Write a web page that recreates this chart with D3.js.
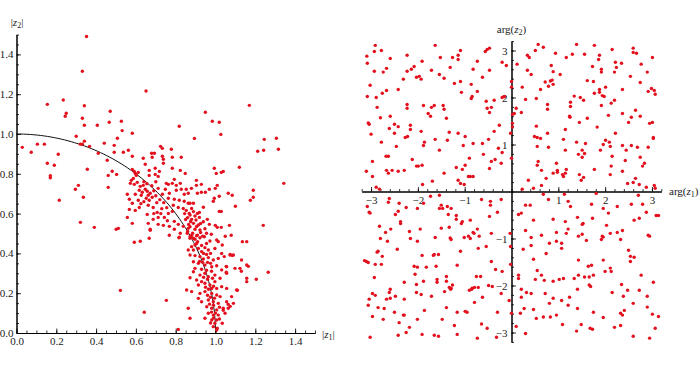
<!DOCTYPE html>
<html>
<head>
<meta charset="utf-8">
<script src="https://cdn.jsdelivr.net/npm/d3@7/dist/d3.min.js"></script>
<style>
  body { margin: 0; background: #fff; }
  svg text { font-family: "Liberation Serif", "DejaVu Serif", serif; fill: #222; }
</style>
</head>
<body>
<script>
// ---- data ---------------------------------------------------------------------
// left panel: |z1| , |z2|
var modPoints = [
  [0.352,1.49],[0.331,1.315],[0.651,1.216],[0.235,1.171],[0.155,1.149],[0.341,1.142],[0.471,1.114],[0.25,1.104],
  [0.245,1.089],[0.331,1.079],[0.466,1.059],[0.527,1.064],[0.341,1.044],[0.406,1.044],[0.300,0.989],[0.341,0.964],
  [0.321,0.949],[0.331,0.949],[0.441,0.954],[0.491,0.943],[0.367,0.938],[0.029,0.933],[0.105,0.949],[0.140,0.949],
  [0.074,0.908],[0.210,0.898],[0.411,0.903],[0.491,0.908],[0.456,0.868],[0.155,0.853],[0.190,0.843],[0.356,0.823],
  [0.481,0.813],[0.170,0.79],[0.170,0.78],[0.531,1.017],[0.582,1.004],[0.507,0.979],
  [0.724,0.938],[0.733,0.928],[0.778,0.923],[0.537,0.908],[0.562,0.918],[0.582,0.888],[0.637,0.878],[0.679,0.903],
  [0.693,0.903],[0.682,0.883],[0.733,0.888],[0.738,0.873],[0.783,0.883],[0.828,0.883],[0.647,0.848],[0.697,0.828],
  [0.738,0.853],[0.783,0.828],[0.503,0.797],[0.823,0.817],[0.848,0.802],[0.667,0.817],[0.667,0.792],[0.697,0.797],
  [0.712,0.787],[0.718,0.812],
  [0.582,0.822],[0.592,0.812],[0.597,0.802],[0.602,0.792],[0.612,0.807],[0.587,0.777],[0.577,0.767],[0.572,0.752],
  [0.592,0.747],[0.607,0.757],[0.622,0.737],[0.637,0.742],[0.617,0.717],[0.632,0.707],[0.647,0.722],[0.657,0.712],
  [0.662,0.692],[0.672,0.702],[0.652,0.677],[0.667,0.667],[0.682,0.682],[0.627,0.692],[0.597,0.697],[0.612,0.667],
  [0.567,0.672],[0.557,0.697],[0.582,0.652],[0.567,0.621],[0.597,0.616],[0.617,0.631],[0.662,0.642],[0.687,0.631],
  [0.707,0.606],[0.657,0.596],
  [0.64,0.76],[0.655,0.75],[0.68,0.74],[0.70,0.76],[0.69,0.715],[0.70,0.69],[0.72,0.67],[0.705,0.655],
  [0.74,0.655],[0.73,0.625],[0.755,0.63],[0.64,0.66],[0.625,0.65],[0.69,0.60],[0.725,0.60],
  [0.753,0.752],[0.763,0.747],[0.783,0.752],[0.793,0.772],[0.803,0.742],[0.823,0.752],[0.828,0.722],[0.853,0.722],
  [0.863,0.702],[0.843,0.697],[0.803,0.717],[0.748,0.722],[0.768,0.702],[0.712,0.727],[0.733,0.697],[0.763,0.677],
  [0.793,0.672],[0.818,0.667],[0.843,0.662],[0.863,0.652],[0.788,0.642],[0.813,0.631],[0.838,0.626],[0.853,0.616],
  [0.868,0.601],[0.783,0.611],[0.763,0.601],[0.743,0.581],[0.712,0.581],[0.687,0.571],[0.758,0.564],[0.793,0.561],
  [0.813,0.546],[0.838,0.536],[0.863,0.526],[0.858,0.501],[0.823,0.501],[0.793,0.521],[0.768,0.536],[0.738,0.541],
  [0.712,0.546],[0.672,0.521],[0.662,0.551],[0.557,0.581],[0.582,0.551],[0.512,0.526],[0.768,0.491],[0.818,0.481],
  [0.880,0.626],[0.889,0.610],[0.872,0.593],[0.897,0.588],[0.909,0.601],[0.880,0.571],[0.902,0.568],[0.919,0.581],
  [0.889,0.551],[0.914,0.543],[0.939,0.559],[0.872,0.534],[0.897,0.521],[0.922,0.518],[0.947,0.524],[0.885,0.501],
  [0.909,0.492],[0.935,0.487],[0.955,0.501],[0.872,0.476],[0.897,0.471],
  [0.86,0.58],[0.875,0.56],[0.865,0.545],[0.905,0.535],[0.925,0.55],[0.86,0.51],[0.88,0.49],[0.925,0.505],
  [0.845,0.6],[0.85,0.57],
  [0.904,0.767],[0.904,0.742],[0.929,0.747],[0.879,0.727],[1.009,0.742],[0.999,0.727],[0.969,0.722],[1.064,0.702],
  [1.084,0.692],[1.190,0.717],[1.190,0.682],[1.175,0.667],[0.909,0.702],[0.929,0.707],[0.949,0.707],[1.019,0.687],
  [0.994,0.677],[0.989,0.662],[1.100,0.637],[1.019,0.611],[1.029,0.611],[0.939,0.632],[0.919,0.606],[0.889,0.652],
  [0.872,0.652],[1.240,0.541],[1.070,0.541],[0.959,0.571],[0.969,0.546],[0.999,0.541],[1.009,0.531],[1.029,0.531],
  [0.979,0.496],[1.049,0.486],[1.079,0.491],
  [0.994,0.828],[1.004,0.802],[1.029,0.807],[1.039,0.812],[1.120,0.833],[1.212,0.913],[1.242,0.918],[1.245,0.973],
  [1.306,0.979],[1.316,0.923],[1.027,0.998],[0.894,0.978],[1.17,1.144],[0.949,1.109],[0.818,1.039],[0.984,1.064],
  [1.019,1.059],[1.343,0.752],
  [0.816,0.479],[0.872,0.484],[0.889,0.476],[0.905,0.489],[0.922,0.479],[0.944,0.484],[0.972,0.462],[1.006,0.467],
  [1.014,0.459],[1.034,0.442],[1.135,0.459],[1.157,0.459],[0.910,0.459],[0.897,0.442],[0.880,0.434],[0.863,0.417],
  [0.889,0.417],[0.914,0.425],[0.930,0.409],[0.947,0.429],[0.964,0.417],[0.997,0.425],[1.031,0.400],[1.073,0.392],
  [1.090,0.392],[1.131,0.367],[1.044,0.384],[0.872,0.392],[0.897,0.389],[0.922,0.384],[0.939,0.372],[0.964,0.379],
  [0.989,0.367],[1.014,0.375],[0.889,0.358],[0.914,0.350],[0.947,0.342],[0.981,0.333],[1.006,0.338],[1.056,0.333],
  [1.098,0.325],[1.123,0.325],[1.157,0.342],[1.056,0.300],[1.031,0.317],[0.897,0.325],[0.889,0.308],[0.922,0.291],
  [0.947,0.300],[0.964,0.283],[0.997,0.291],[1.023,0.275],[1.157,0.275],[1.157,0.258],[0.872,0.278],[0.905,0.266],
  [0.930,0.258],[0.914,0.241],[0.947,0.250],[0.972,0.241],[0.997,0.258],[0.981,0.224],[1.006,0.224],[1.031,0.233],
  [1.056,0.224],[1.106,0.216],[0.855,0.216],[0.880,0.208],[0.922,0.199],[0.947,0.208],[0.981,0.199],[1.006,0.191],
  [1.023,0.183],[1.081,0.183],[0.914,0.174],[0.930,0.157],[0.964,0.166],[0.989,0.157],[1.014,0.149],[1.056,0.157],
  [1.090,0.149],[0.956,0.132],[0.981,0.124],[1.006,0.116],[1.039,0.124],[1.064,0.124],[0.863,0.124],[0.964,0.099],
  [0.989,0.090],[1.014,0.090],[1.048,0.099],[0.947,0.074],[0.981,0.065],[1.006,0.065],[0.872,0.074],[0.997,0.049],
  [0.989,0.032],[1.006,0.015],[0.813,0.018],
  [0.905,0.45],[0.93,0.44],[0.955,0.45],[0.94,0.40],[0.955,0.395],[0.975,0.40],[0.92,0.36],[0.935,0.355],
  [0.96,0.355],[0.975,0.35],[0.93,0.32],[0.955,0.315],[0.98,0.31],[0.94,0.28],[0.96,0.27],[0.985,0.275],
  [0.95,0.23],[0.965,0.22],[0.99,0.235],[0.96,0.19],[0.975,0.18],[0.995,0.175],[0.97,0.145],[0.99,0.14],
  [1.02,0.13],[0.98,0.105],[1.0,0.10],[0.99,0.075],[1.02,0.07],[0.975,0.05],
  [0.215,0.667],[0.311,0.742],[0.296,0.722],[0.336,0.682],[0.321,0.556],[0.391,0.531],[0.461,0.792],[0.461,0.732],
  [0.501,0.521],[0.522,0.214],[0.642,0.104],[0.753,0.164],[0.592,0.456],[0.622,0.461],[0.667,0.476],[0.672,0.516],
  [1.265,0.305],[1.205,0.270],[1.13,0.31],[1.165,0.335],[1.11,0.215],[1.074,0.395],[1.084,0.39],[1.054,0.335],
  [1.054,0.305],[1.064,0.144],[1.074,0.134],[1.039,0.114],[1.034,0.049],[1.009,0.024]
];

// right panel: arg(z1) , arg(z2)
var argPoints = [
  [-2.91,3.11],[-2.93,2.98],[-2.78,3.00],[-3.09,2.88],[-3.08,2.73],[-2.23,2.90],[-1.63,3.11],[-1.09,3.00],
  [-1.14,2.90],[-1.14,2.81],[-1.26,2.85],[-1.52,2.85],[-1.91,2.77],[-2.59,2.83],[-2.67,2.62],[-2.74,2.54],
  [-2.93,2.56],[-3.02,2.26],[-3.08,2.02],[-2.89,2.00],[-2.76,2.09],[-2.67,2.15],[-2.42,2.17],[-2.31,2.39],
  [-2.23,2.56],[-2.14,2.60],[-2.08,2.66],[-2.03,2.43],[-1.97,2.45],[-1.93,2.39],[-1.71,2.58],[-1.54,2.49],
  [-1.44,2.41],[-1.31,2.64],[-1.22,2.30],[-1.09,2.34],[-1.07,2.11],[-0.86,2.28],[-0.84,2.02],[-0.86,1.98],
  [-0.73,2.77],[-0.82,2.60],[-0.62,2.43],[-0.73,2.13],[-0.52,3.02],[-0.47,3.05],[-0.56,2.98],[-0.47,2.58],
  [-0.54,1.92],[-0.37,1.94],[-0.43,1.79],[-0.47,1.68],[-0.52,1.77],[-0.20,2.75],[-0.11,2.68],[-0.15,2.02],
  [-0.20,2.00],[0.00,2.34],[0.00,2.22],[0.02,1.45],[0.06,1.66],[0.02,1.37],[0.00,0.71],
  [-2.87,1.79],[-3.06,1.46],[-3.04,1.43],[-3.00,1.22],[-2.80,1.57],[-2.59,1.60],[-2.61,1.34],[-2.50,1.43],
  [-2.50,1.24],[-2.42,1.38],[-2.46,0.96],[-2.78,1.05],[-2.68,0.75],[-2.63,0.75],[-3.10,0.43],[-2.97,0.32],
  [-2.97,0.64],[-2.67,0.45],[-2.63,0.39],[-2.55,0.45],[-2.42,0.43],[-2.29,0.45],[-2.16,1.41],[-2.16,1.32],
  [-2.27,1.15],[-2.22,1.17],[-2.12,0.68],[-2.03,0.54],[-1.99,0.54],[-1.91,0.56],[-1.93,1.28],[-1.86,1.05],
  [-1.88,0.98],[-2.23,1.85],[-2.23,1.77],[-1.88,1.83],[-1.78,1.66],[-1.73,1.60],[-1.71,1.79],[-1.65,1.83],
  [-1.46,1.83],[-1.44,1.75],[-1.39,1.56],[-1.63,1.11],[-1.54,0.88],[-1.37,1.09],[-1.33,1.26],[-1.14,1.24],
  [-1.03,0.98],[-0.99,1.17],[-1.18,0.51],[-1.05,0.47],[-0.99,0.56],[-0.90,0.71],[-0.82,1.02],[-0.62,1.02],
  [-0.60,0.79],[-0.49,1.11],[-0.37,1.28],[-0.26,1.41],[-0.28,0.92],[-0.43,0.64],[-0.47,0.49],[-0.35,0.68],
  [-0.22,0.60],[-0.20,0.83],[-0.02,1.24],[0.02,1.64],[-0.92,0.32],[-0.88,0.32],[-0.82,0.32],[-1.01,0.15],
  [-1.14,0.24],[-1.09,0.17],[-1.44,0.39],[-1.69,0.22],[-1.90,0.15],[-2.89,0.09],[-2.82,0.05],
  [0.57,3.13],[0.68,3.07],[0.51,3.00],[0.34,2.90],[0.38,2.85],[0.12,2.71],[0.34,2.58],[0.42,2.49],
  [0.23,2.22],[0.30,1.96],[0.10,1.77],[0.21,1.68],[0.94,2.94],[1.39,3.13],[1.30,2.92],[1.17,2.85],
  [1.56,2.92],[1.77,3.11],[1.88,2.90],[1.86,2.81],[1.73,2.66],[1.92,2.60],[1.92,2.54],[2.15,3.02],
  [2.22,2.75],[2.24,2.64],[2.20,2.54],[2.35,2.73],[2.60,3.05],[2.60,2.96],[2.67,2.94],[3.01,2.85],
  [2.77,2.71],[2.90,2.54],[2.54,2.45],[2.75,2.32],[2.99,2.19],[3.05,2.15],[2.92,2.13],[3.07,2.07],
  [2.37,2.17],[0.85,2.68],[0.89,2.55],[1.04,2.49],[0.72,2.33],[0.83,2.35],[0.87,2.37],[0.89,2.28],
  [0.79,2.24],[0.62,2.17],[0.53,1.98],[0.77,1.85],[0.77,1.75],[1.26,1.90],[1.26,1.81],[1.34,2.03],
  [1.47,2.00],[1.54,1.94],[1.62,2.36],[1.75,2.34],[1.77,2.09],[1.88,2.17],[1.88,2.11],[1.94,2.04],
  [1.98,2.02],[2.01,2.22],[1.92,1.83],[2.13,1.88],[2.20,1.94],[2.07,1.62],[2.37,1.66],[2.56,1.58],
  [2.65,1.73],[2.75,1.60],[2.50,1.47],[2.95,1.45],[3.01,1.47],[3.03,1.15],[3.03,1.13],[2.92,0.94],
  [1.24,1.60],[1.25,1.58],[1.45,1.47],[1.62,1.56],[1.83,1.37],[1.15,1.32],[0.53,1.39],[0.49,1.17],
  [0.55,1.15],[0.62,1.13],[0.77,1.24],[0.55,0.96],[0.79,0.94],[1.11,1.11],[1.15,0.88],[1.39,1.05],
  [1.58,1.02],[1.43,0.79],[1.51,0.88],[1.56,0.81],[1.51,0.73],[1.90,0.88],[1.96,1.00],[2.01,1.09],
  [2.09,1.05],[2.11,0.96],[2.22,1.24],[2.37,0.98],[2.45,0.88],[2.56,0.98],[2.69,0.94],[2.15,0.75],
  [2.43,0.66],[2.75,0.73],[2.84,0.60],[2.80,0.54],[2.13,0.54],[2.11,0.36],[2.37,0.43],[0.57,0.64],
  [0.55,0.56],[0.64,0.45],[0.96,0.60],[0.98,0.45],[0.98,0.41],[0.89,0.39],[1.09,0.36],[1.11,0.32],
  [1.17,0.47],[1.15,0.39],[0.74,0.28],[0.36,0.24],[1.45,0.36],[1.54,0.30],[1.49,0.24],[1.77,0.47],
  [2.48,0.17],[2.60,0.19],[2.65,0.28],[2.73,0.15],[3.05,0.13],[3.07,0.07],[2.88,0.09],[0.47,0.07],
  [0.64,0.13],[0.23,0.05],
  [-3.08,-0.32],[-3.04,-0.44],[-3.02,-0.46],[-2.61,-0.15],[-2.63,-0.23],[-2.40,-0.25],[-2.25,-0.34],[-2.48,-0.49],
  [-2.42,-0.42],[-2.37,-0.64],[-2.37,-0.68],[-2.01,-0.36],[-1.88,-0.25],[-1.73,-0.10],[-1.54,-0.08],[-1.50,-0.29],
  [-1.54,-0.36],[-1.47,-0.36],[-1.37,-0.32],[-1.29,-0.36],[-1.35,-0.49],[-1.18,-0.51],[-1.18,-0.59],[-1.05,-0.64],
  [-1.07,-0.68],[-0.88,-0.61],[-0.64,-0.17],[-0.45,-0.21],[-0.45,-0.29],[-0.22,-0.17],[-0.47,-0.53],[-0.30,-0.44],
  [-2.82,-0.74],[-2.69,-0.87],[-2.58,-0.80],[-2.80,-1.00],[-2.65,-1.06],[-2.18,-0.85],[-2.16,-1.00],[-1.95,-0.80],
  [-2.01,-1.06],[-1.50,-0.78],[-1.63,-0.98],[-1.33,-0.76],[-1.31,-0.99],[-1.29,-1.02],[-1.01,-0.98],[-0.92,-0.95],
  [-0.82,-0.87],[-0.80,-0.89],[-0.73,-0.80],[-0.69,-0.95],[-0.88,-1.00],[-0.43,-0.89],[-0.54,-1.17],[-0.71,-1.21],
  [-0.03,-0.89],[-0.02,-1.17],[-2.44,-1.23],[-2.85,-1.27],[-2.87,-1.29],[-2.76,-1.38],[-2.78,-1.55],[-2.91,-1.55],
  [-3.14,-1.47],[-3.10,-1.49],[-3.06,-1.51],[-1.91,-1.36],[-1.67,-1.36],[-1.65,-1.34],[-1.56,-1.34],[-1.09,-1.27],
  [-1.16,-1.57],[-2.08,-1.59],[-2.01,-1.61],[-1.82,-1.61],[-1.61,-1.59],[-2.06,-1.76],[-2.29,-1.93],[-2.93,-1.83],
  [-0.43,-1.49],[-0.34,-1.66],[-0.20,-1.70],[-0.66,-1.81],[-0.75,-1.81],[-0.02,-1.55],[-1.59,-1.87],[-1.59,-1.93],
  [-1.39,-1.81],[-1.39,-1.91],[-1.33,-2.04],[-1.29,-2.06],[-1.26,-1.99],[-1.30,-2.08],[-1.43,-2.13],[-2.03,-1.98],
  [-2.03,-2.15],[-1.88,-1.91],[-1.93,-2.19],[-2.59,-2.08],[-2.61,-2.15],[-2.59,-2.27],[-2.67,-2.29],[-2.48,-2.23],
  [-2.97,-2.17],[-2.91,-2.21],[-3.04,-2.29],[-3.06,-2.42],[-2.85,-2.47],[-2.72,-2.49],[-2.97,-2.66],[-0.90,-2.10],
  [-0.84,-2.06],[-0.79,-2.04],[-0.85,-2.08],[-0.71,-2.04],[-0.49,-2.00],[-0.41,-2.02],[-0.79,-2.36],[-0.62,-2.25],
  [-0.22,-2.17],[-0.05,-2.32],[-1.71,-2.23],[-2.29,-2.29],[-1.39,-2.47],[-1.86,-2.53],[-2.50,-2.57],[-2.31,-2.63],
  [-2.29,-2.63],[-2.74,-2.72],[-2.40,-2.79],[-2.18,-2.89],[-1.48,-2.72],[-1.16,-2.57],[-0.99,-2.55],[-0.95,-2.57],
  [-2.01,-2.72],[-0.30,-2.57],[-1.22,-2.85],[-0.64,-2.82],[-0.52,-2.91],[0.00,-2.59],[-3.02,-3.10],[-2.42,-3.06],
  [-2.25,-3.00],[-1.91,-3.04],[-1.65,-3.06],[-1.56,-3.08],[-1.16,-3.04],[-0.73,-3.12],[-0.32,-3.10],
  [0.15,-0.49],[0.21,-0.46],[0.30,-0.29],[0.40,-0.29],[0.68,-0.06],[0.79,-0.17],[1.13,-0.06],[1.26,-0.32],
  [1.21,-0.21],[1.71,-0.27],[1.81,-0.04],[1.96,-0.36],[2.07,-0.46],[2.26,-0.32],[2.56,-0.27],[2.71,-0.08],
  [2.80,-0.27],[2.88,-0.44],[3.09,-0.51],[3.14,-0.51],[0.47,-0.61],[0.89,-0.59],[1.15,-0.64],[1.41,-0.55],
  [1.53,-0.68],[1.51,-0.70],[1.73,-0.57],[2.03,-0.72],[2.11,-0.89],[2.26,-0.87],[2.37,-0.83],[2.33,-1.02],
  [2.62,-0.61],[2.73,-0.57],[0.30,-0.83],[0.42,-0.98],[0.64,-0.93],[0.96,-0.87],[1.17,-0.89],[1.21,-0.80],
  [1.43,-0.95],[1.51,-0.91],[1.60,-1.04],[1.92,-1.02],[1.94,-0.95],[1.96,-0.97],[2.92,-0.93],[2.95,-0.95],
  [0.25,-1.23],[0.42,-1.15],[0.81,-1.10],[0.96,-1.06],[1.07,-1.10],[1.07,-1.21],[0.74,-1.32],[0.47,-1.44],
  [1.43,-1.46],[1.96,-1.46],[2.50,-1.25],[2.54,-1.38],[2.54,-1.49],[2.62,-1.40],[0.55,-1.68],[1.64,-1.59],
  [1.71,-1.57],[2.00,-1.70],[2.11,-1.63],[2.13,-1.70],[2.77,-1.78],[0.15,-1.78],[0.15,-1.85],[0.51,-1.87],
  [0.64,-1.78],[0.70,-1.89],[0.89,-1.91],[1.02,-1.87],[1.11,-1.85],[1.34,-1.85],[1.43,-1.78],[1.56,-1.82],
  [1.66,-1.82],[1.75,-1.78],[1.66,-1.99],[1.69,-2.02],[3.03,-1.93],[0.21,-2.08],[0.32,-2.15],[0.42,-2.17],
  [0.72,-2.17],[0.89,-2.27],[1.07,-2.32],[1.24,-2.25],[1.41,-2.08],[1.21,-2.42],[0.81,-2.38],[0.21,-2.25],
  [2.15,-2.15],[2.35,-1.98],[2.39,-2.23],[2.48,-2.10],[2.73,-2.10],[2.60,-2.38],[2.41,-2.53],[2.33,-2.59],
  [2.37,-2.63],[2.90,-2.23],[2.90,-2.46],[3.01,-2.61],[3.14,-2.66],[0.19,-2.59],[0.27,-2.49],[0.47,-2.51],
  [0.53,-2.70],[0.68,-2.67],[0.83,-2.67],[0.96,-2.63],[1.41,-2.49],[1.75,-2.57],[1.96,-2.68],[0.10,-2.87],
  [0.30,-3.02],[1.09,-2.83],[1.49,-2.83],[1.39,-2.97],[1.68,-2.91],[1.73,-2.93],[2.20,-2.89],[2.33,-2.85],
  [2.60,-3.08],[2.95,-3.12],[3.07,-2.91]
];

var modMajor = [0, 0.2, 0.4, 0.6, 0.8, 1.0, 1.2, 1.4];
var modMinor = d3.range(0, 1.501, 0.05);
var argMajor = [-3, -2, -1, 1, 2, 3];
var argMinor = d3.range(-3.2, 3.201, 0.2);

var width = 700, height = 366;
var dotColor = "#e3101e";

var svg = d3.select("body").append("svg")
  .attr("width", width)
  .attr("height", height);

// ---- left panel -------------------------------------------------------------
var xL = d3.scaleLinear().domain([0, 1.5]).range([16.5, 315]);
var yL = d3.scaleLinear().domain([0, 1.5]).range([333, 34.5]);

function styleAxis(g) {
  g.selectAll("path.domain").attr("stroke", "#000").attr("stroke-width", 1);
  g.selectAll(".tick line").attr("stroke", "#000").attr("stroke-width", 0.8);
  g.selectAll(".tick text").attr("font-size", "11px").attr("fill", "#222")
    .style("font-family", '"Liberation Serif", serif');
}

// minor ticks first, then the labelled axis on top
svg.append("g").attr("transform", "translate(0,333)")
  .call(d3.axisBottom(xL).tickValues(modMinor).tickSizeInner(-2.5).tickSizeOuter(0).tickFormat(""))
  .call(styleAxis);
svg.append("g").attr("transform", "translate(0,333)")
  .call(d3.axisBottom(xL).tickValues(modMajor).tickSizeInner(-4.5).tickSizeOuter(0).tickPadding(4)
    .tickFormat(d3.format(".1f")))
  .call(styleAxis);
svg.append("g").attr("transform", "translate(16.5,0)")
  .call(d3.axisLeft(yL).tickValues(modMinor).tickSizeInner(-2.5).tickSizeOuter(0).tickFormat(""))
  .call(styleAxis);
svg.append("g").attr("transform", "translate(16.5,0)")
  .call(d3.axisLeft(yL).tickValues(modMajor).tickSizeInner(-4.5).tickSizeOuter(0).tickPadding(3)
    .tickFormat(d3.format(".1f")))
  .call(styleAxis);

// unit circle reference arc
var arcAngles = d3.range(0, 90.5, 1);
svg.append("path")
  .datum(arcAngles)
  .attr("fill", "none")
  .attr("stroke", "#111")
  .attr("stroke-width", 1)
  .attr("d", d3.line()
    .x(function(a) { return xL(Math.cos(a * Math.PI / 180)); })
    .y(function(a) { return yL(Math.sin(a * Math.PI / 180)); }));

svg.append("g").selectAll("circle")
  .data(modPoints)
  .enter().append("circle")
  .attr("cx", function(d) { return xL(d[0]); })
  .attr("cy", function(d) { return yL(d[1]); })
  .attr("r", 1.7)
  .attr("fill", dotColor);

// axis labels |z1| |z2|
var lab1 = svg.append("text").attr("x", 322).attr("y", 338).attr("font-size", "11px");
lab1.append("tspan").text("|");
lab1.append("tspan").attr("font-style", "italic").text("z");
lab1.append("tspan").attr("font-size", "8px").attr("dy", 2).text("1");
lab1.append("tspan").attr("dy", -2).text("|");

var lab2 = svg.append("text").attr("x", 17).attr("y", 26).attr("font-size", "11px").attr("text-anchor", "middle");
lab2.append("tspan").text("|");
lab2.append("tspan").attr("font-style", "italic").text("z");
lab2.append("tspan").attr("font-size", "8px").attr("dy", 2).text("2");
lab2.append("tspan").attr("dy", -2).text("|");

// ---- right panel ------------------------------------------------------------
var xR = d3.scaleLinear().domain([-3.2, 3.2]).range([361.7, 661.3]);
var yR = d3.scaleLinear().domain([-3.2, 3.2]).range([341.9, 41.1]);

svg.append("g").attr("transform", "translate(0," + yR(0) + ")")
  .call(d3.axisBottom(xR).tickValues(argMinor).tickSizeInner(-2.5).tickSizeOuter(0).tickFormat(""))
  .call(styleAxis);
svg.append("g").attr("transform", "translate(0," + yR(0) + ")")
  .call(d3.axisBottom(xR).tickValues(argMajor).tickSizeInner(-4.5).tickSizeOuter(0).tickPadding(5)
    .tickFormat(d3.format("d")))
  .call(styleAxis);
svg.append("g").attr("transform", "translate(" + xR(0) + ",0)")
  .call(d3.axisLeft(yR).tickValues(argMinor).tickSizeInner(-2.5).tickSizeOuter(0).tickFormat(""))
  .call(styleAxis);
svg.append("g").attr("transform", "translate(" + xR(0) + ",0)")
  .call(d3.axisLeft(yR).tickValues(argMajor).tickSizeInner(-4.5).tickSizeOuter(0).tickPadding(4)
    .tickFormat(d3.format("d")))
  .call(styleAxis);

svg.append("g").selectAll("circle")
  .data(argPoints)
  .enter().append("circle")
  .attr("cx", function(d) { return xR(d[0]); })
  .attr("cy", function(d) { return yR(d[1]); })
  .attr("r", 1.7)
  .attr("fill", dotColor);

var lab3 = svg.append("text").attr("x", 669).attr("y", 195).attr("font-size", "11px");
lab3.append("tspan").text("arg(");
lab3.append("tspan").attr("font-style", "italic").text("z");
lab3.append("tspan").attr("font-size", "8px").attr("dy", 2).text("1");
lab3.append("tspan").attr("dy", -2).text(")");

var lab4 = svg.append("text").attr("x", xR(0)).attr("y", 33).attr("font-size", "11px").attr("text-anchor", "middle");
lab4.append("tspan").text("arg(");
lab4.append("tspan").attr("font-style", "italic").text("z");
lab4.append("tspan").attr("font-size", "8px").attr("dy", 2).text("2");
lab4.append("tspan").attr("dy", -2).text(")");
</script>
</body>
</html>
